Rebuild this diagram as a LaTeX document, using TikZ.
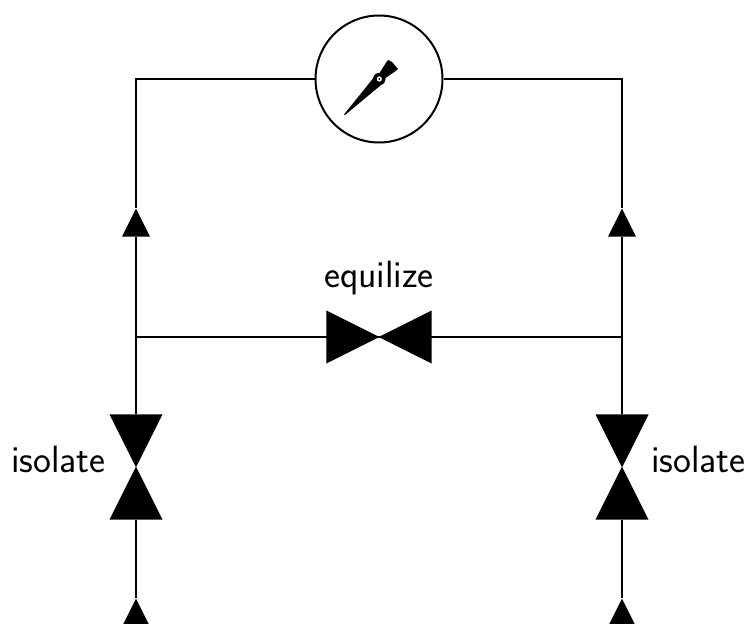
\documentclass[tikz,border=0pt]{standalone}
\usetikzlibrary{shapes.geometric}
\usetikzlibrary{positioning}

\tikzset{
    pipe/.style={line width=2pt},
    tip/.style={isosceles triangle, isosceles triangle stretches, fill=black, draw=none, inner sep=0pt, minimum height=28pt, minimum width=28pt, anchor=apex},
    seat/.style={isosceles triangle, isosceles triangle stretches, fill=black, draw=none, inner sep=0pt, minimum height=53pt, minimum width=53pt, anchor=apex},
    label/.style={font=\sffamily\fontsize{38}{38}\selectfont, inner sep=0pt}
}

\begin{document}
\begin{tikzpicture}[x=1pt, y=-1pt]
            \useasboundingbox (0,0) rectangle (754,623);
            \clip (0,0) rectangle (754,623);

            \node[circle, draw, pipe, minimum size=127pt, inner sep=0pt] (gauge) at (379,79) {};

            \node[tip, shape border rotate=90] (upL) at (136,208) {};
            \node[tip, shape border rotate=90] (upR) at (622,208) {};
            \node[tip, shape border rotate=90] (inL) at (136,598) {};
            \node[tip, shape border rotate=90] (inR) at (622,598) {};

            \node[seat, shape border rotate=270] (isoLa) at (136,468) {};
            \node[seat, shape border rotate=90] (isoLb) at (136,466) {};
            \node[seat, shape border rotate=270] (isoRa) at (622,468) {};
            \node[seat, shape border rotate=90] (isoRb) at (622,466) {};
            \node[seat, shape border rotate=180] (eqA) at (378,337) {};
            \node[seat, shape border rotate=0] (eqB) at (380,337) {};

            \coordinate (jL) at (136,337);
            \coordinate (jR) at (622,337);

            \node[label, anchor=base west] (isoLtext) at (11,472) {isolate};
            \node[label, anchor=base west] (isoRtext) at (651,472) {isolate};
            \node[label, anchor=base] (eqtext) at (379,287) {equilize};

            \draw[pipe] (gauge.west) -| (upL.apex)
                        (gauge.east) -| (upR.apex)
                        (upL.lower side) -- (isoLa.lower side)
                        (upR.lower side) -- (isoRa.lower side)
                        (isoLb.lower side) -- (inL.apex)
                        (isoRb.lower side) -- (inR.apex)
                        (jL) -- (eqA.lower side)
                        (eqB.lower side) -- (jR)
                        ;

            \fill (344,114.5) -- (345,115) -- (381,85) -- (375,76) -- cycle;
            \fill (377,77) -- (386.5,62) -- (388,60) -- (392,62) -- (398,69) -- (395,71.5) -- (381,81) -- cycle;
            \fill (379.3,79) circle (6.2pt);
            \fill[white] (379.3,79) circle (2.6pt);
            \fill (379.3,79) circle (1pt);
        \end{tikzpicture}
\end{document}
